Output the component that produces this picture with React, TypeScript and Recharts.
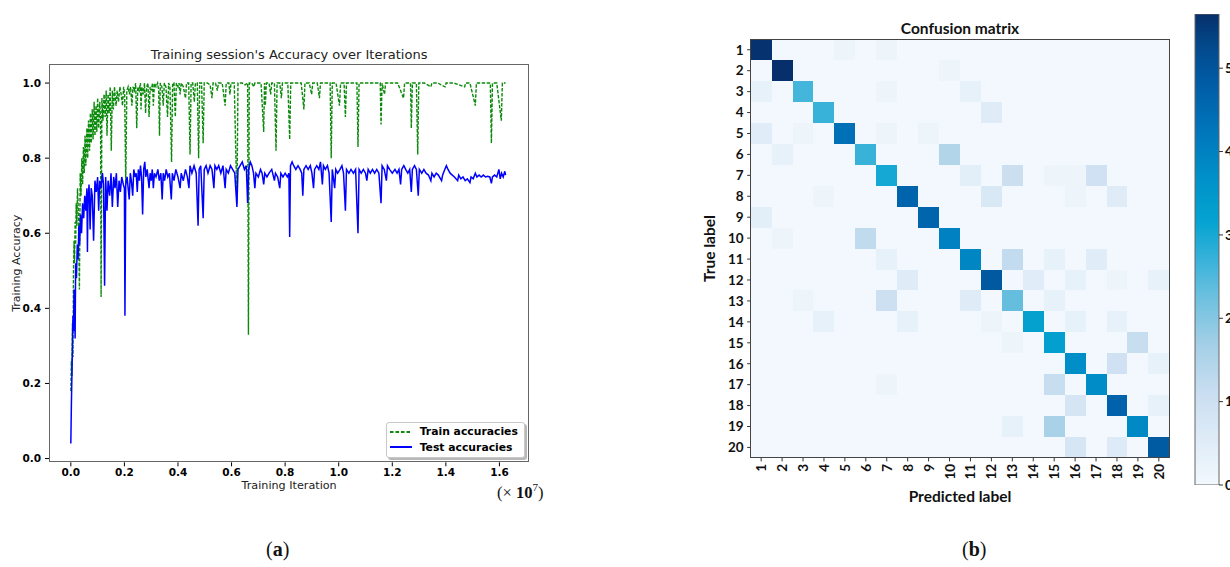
import React from "react"
import {
    LineChart,
    Line,
    XAxis,
    YAxis,
    Legend,
    ScatterChart,
    Scatter,
    BarChart,
    Bar,
} from "recharts"

// ---- panel (a): accuracy curves, x in units of 1e7 iterations ----
const trainCurve: [number, number][] = [
    [0, 0.18], [0.002, 0.26], [0.004, 0.22], [0.006, 0.36], [0.008, 0.27], [0.01, 0.5], [0.012, 0.58],
    [0.014, 0.52], [0.016, 0.63], [0.018, 0.57], [0.02, 0.68], [0.022, 0.62], [0.025, 0.72], [0.028, 0.66],
    [0.032, 0.45], [0.035, 0.76], [0.038, 0.7], [0.041, 0.8], [0.044, 0.73], [0.047, 0.83], [0.05, 0.76],
    [0.053, 0.86], [0.056, 0.78], [0.06, 0.88], [0.063, 0.8], [0.066, 0.9], [0.07, 0.82], [0.073, 0.92],
    [0.076, 0.84], [0.08, 0.93], [0.083, 0.85], [0.087, 0.95], [0.09, 0.86], [0.094, 0.94], [0.097, 0.87],
    [0.1, 0.96], [0.104, 0.88], [0.108, 0.95], [0.111, 0.9], [0.113, 0.43], [0.116, 0.96], [0.12, 0.9],
    [0.124, 0.97], [0.128, 0.91], [0.132, 0.98], [0.135, 0.86], [0.139, 0.97], [0.143, 0.92], [0.147, 0.99],
    [0.151, 0.82], [0.155, 0.98], [0.159, 0.93], [0.163, 0.99], [0.167, 0.95], [0.169, 0.94], [0.173, 0.98],
    [0.178, 0.95], [0.183, 0.99], [0.188, 0.97], [0.193, 0.94], [0.197, 0.99], [0.201, 0.97], [0.205, 0.73],
    [0.209, 0.98], [0.214, 0.99], [0.219, 0.97], [0.223, 0.99], [0.228, 0.94], [0.232, 0.99], [0.237, 0.98],
    [0.242, 1.0], [0.246, 0.88], [0.25, 0.99], [0.255, 0.98], [0.26, 1.0], [0.262, 0.93], [0.265, 0.99],
    [0.27, 0.97], [0.275, 1.0], [0.279, 0.92], [0.283, 0.99], [0.288, 1.0], [0.292, 0.91], [0.296, 0.99],
    [0.3, 0.98], [0.305, 1.0], [0.308, 0.94], [0.312, 1.0], [0.318, 0.99], [0.324, 1.0], [0.328, 0.98],
    [0.331, 0.86], [0.334, 1.0], [0.34, 0.99], [0.345, 0.94], [0.349, 1.0], [0.355, 0.99], [0.361, 0.91],
    [0.365, 1.0], [0.37, 0.99], [0.376, 0.79], [0.38, 1.0], [0.385, 1.0], [0.39, 0.91], [0.394, 1.0],
    [0.4, 0.99], [0.404, 1.0], [0.408, 0.97], [0.412, 1.0], [0.42, 0.99], [0.428, 0.96], [0.432, 1.0],
    [0.44, 1.0], [0.445, 0.81], [0.449, 1.0], [0.455, 1.0], [0.461, 0.95], [0.465, 1.0], [0.472, 1.0],
    [0.477, 0.8], [0.481, 1.0], [0.488, 1.0], [0.494, 0.84], [0.498, 1.0], [0.51, 1.0], [0.52, 0.995],
    [0.527, 0.96], [0.531, 1.0], [0.54, 1.0], [0.547, 0.98], [0.551, 1.0], [0.565, 1.0], [0.576, 0.94],
    [0.58, 1.0], [0.59, 1.0], [0.594, 0.97], [0.598, 1.0], [0.61, 1.0], [0.62, 0.68], [0.624, 1.0],
    [0.64, 1.0], [0.65, 0.995], [0.66, 1.0], [0.663, 0.33], [0.666, 1.0], [0.675, 1.0], [0.683, 0.99],
    [0.687, 1.0], [0.7, 1.0], [0.71, 1.0], [0.72, 0.87], [0.723, 1.0], [0.726, 0.94], [0.73, 1.0],
    [0.74, 1.0], [0.746, 0.97], [0.75, 1.0], [0.76, 1.0], [0.766, 0.82], [0.77, 1.0], [0.78, 1.0],
    [0.786, 0.96], [0.79, 1.0], [0.81, 1.0], [0.817, 0.85], [0.821, 1.0], [0.84, 1.0], [0.86, 1.0],
    [0.87, 0.93], [0.874, 1.0], [0.89, 1.0], [0.899, 0.97], [0.903, 1.0], [0.92, 1.0], [0.928, 0.96],
    [0.932, 1.0], [0.95, 1.0], [0.968, 1.0], [0.972, 0.8], [0.976, 1.0], [0.99, 1.0], [1.003, 0.94],
    [1.007, 1.0], [1.02, 1.0], [1.025, 0.91], [1.029, 1.0], [1.05, 1.0], [1.068, 1.0], [1.072, 0.83],
    [1.076, 1.0], [1.1, 1.0], [1.13, 1.0], [1.155, 1.0], [1.158, 0.89], [1.162, 1.0], [1.171, 0.97],
    [1.175, 1.0], [1.2, 1.0], [1.22, 1.0], [1.242, 0.96], [1.246, 1.0], [1.268, 1.0], [1.271, 0.88],
    [1.275, 1.0], [1.29, 1.0], [1.295, 0.81], [1.299, 1.0], [1.32, 1.0], [1.344, 0.99], [1.348, 1.0],
    [1.37, 1.0], [1.397, 0.99], [1.401, 1.0], [1.43, 1.0], [1.47, 0.99], [1.474, 1.0], [1.49, 1.0],
    [1.51, 0.94], [1.514, 1.0], [1.54, 1.0], [1.566, 1.0], [1.57, 0.84], [1.574, 1.0], [1.59, 1.0],
    [1.607, 0.9], [1.611, 1.0], [1.623, 1.0],
]

const testCurve: [number, number][] = [
    [0, 0.04], [0.002, 0.14], [0.004, 0.22], [0.006, 0.3], [0.008, 0.38], [0.01, 0.34], [0.012, 0.45],
    [0.014, 0.41], [0.016, 0.32], [0.018, 0.52], [0.021, 0.48], [0.024, 0.57], [0.027, 0.53], [0.03, 0.62],
    [0.033, 0.57], [0.036, 0.65], [0.04, 0.6], [0.044, 0.68], [0.048, 0.64], [0.052, 0.7], [0.056, 0.66],
    [0.06, 0.72], [0.062, 0.55], [0.064, 0.69], [0.068, 0.73], [0.072, 0.61], [0.076, 0.72], [0.08, 0.7],
    [0.085, 0.58], [0.09, 0.74], [0.095, 0.71], [0.1, 0.75], [0.104, 0.66], [0.108, 0.74], [0.113, 0.72],
    [0.118, 0.76], [0.122, 0.73], [0.126, 0.46], [0.13, 0.75], [0.135, 0.66], [0.139, 0.74], [0.145, 0.7],
    [0.15, 0.76], [0.155, 0.67], [0.16, 0.75], [0.165, 0.72], [0.17, 0.76], [0.175, 0.67], [0.18, 0.74],
    [0.185, 0.71], [0.19, 0.75], [0.196, 0.73], [0.2, 0.72], [0.202, 0.38], [0.205, 0.73], [0.21, 0.75],
    [0.214, 0.72], [0.218, 0.69], [0.222, 0.76], [0.226, 0.74], [0.231, 0.7], [0.235, 0.77], [0.24, 0.75],
    [0.244, 0.76], [0.248, 0.71], [0.252, 0.77], [0.256, 0.74], [0.26, 0.78], [0.264, 0.75], [0.268, 0.65],
    [0.272, 0.77], [0.276, 0.79], [0.28, 0.75], [0.285, 0.77], [0.292, 0.72], [0.296, 0.76], [0.3, 0.74],
    [0.304, 0.77], [0.308, 0.72], [0.312, 0.76], [0.318, 0.75], [0.325, 0.77], [0.33, 0.74], [0.336, 0.76],
    [0.341, 0.69], [0.345, 0.76], [0.35, 0.74], [0.356, 0.77], [0.362, 0.75], [0.368, 0.76], [0.375, 0.69],
    [0.379, 0.76], [0.385, 0.74], [0.392, 0.77], [0.4, 0.75], [0.408, 0.72], [0.412, 0.76], [0.42, 0.74],
    [0.428, 0.77], [0.435, 0.75], [0.441, 0.72], [0.445, 0.78], [0.452, 0.76], [0.46, 0.78], [0.468, 0.76],
    [0.475, 0.62], [0.479, 0.77], [0.485, 0.78], [0.494, 0.64], [0.498, 0.77], [0.505, 0.78], [0.512, 0.76],
    [0.52, 0.78], [0.527, 0.77], [0.534, 0.72], [0.538, 0.78], [0.545, 0.77], [0.552, 0.78], [0.56, 0.76],
    [0.568, 0.78], [0.576, 0.72], [0.58, 0.77], [0.588, 0.76], [0.596, 0.78], [0.604, 0.77], [0.612, 0.76],
    [0.62, 0.67], [0.624, 0.77], [0.632, 0.78], [0.64, 0.79], [0.648, 0.77], [0.655, 0.78], [0.66, 0.68],
    [0.664, 0.77], [0.67, 0.79], [0.676, 0.78], [0.682, 0.76], [0.687, 0.72], [0.691, 0.76], [0.7, 0.75],
    [0.708, 0.77], [0.714, 0.76], [0.72, 0.73], [0.724, 0.76], [0.732, 0.75], [0.74, 0.76], [0.75, 0.77],
    [0.76, 0.74], [0.764, 0.76], [0.772, 0.75], [0.78, 0.72], [0.784, 0.76], [0.792, 0.75], [0.8, 0.76],
    [0.808, 0.75], [0.814, 0.76], [0.817, 0.59], [0.82, 0.78], [0.826, 0.79], [0.832, 0.78], [0.84, 0.77],
    [0.848, 0.78], [0.856, 0.77], [0.862, 0.76], [0.866, 0.7], [0.87, 0.77], [0.878, 0.78], [0.886, 0.77],
    [0.894, 0.78], [0.9, 0.76], [0.906, 0.72], [0.91, 0.77], [0.918, 0.78], [0.926, 0.77], [0.932, 0.79],
    [0.939, 0.73], [0.943, 0.78], [0.95, 0.77], [0.958, 0.78], [0.964, 0.76], [0.972, 0.63], [0.976, 0.77],
    [0.985, 0.72], [0.989, 0.77], [0.996, 0.76], [1.005, 0.77], [1.012, 0.78], [1.018, 0.76], [1.025, 0.66],
    [1.029, 0.77], [1.038, 0.76], [1.046, 0.77], [1.055, 0.76], [1.063, 0.77], [1.072, 0.6], [1.076, 0.77],
    [1.084, 0.76], [1.092, 0.77], [1.1, 0.76], [1.105, 0.74], [1.11, 0.77], [1.118, 0.76], [1.126, 0.77],
    [1.134, 0.76], [1.142, 0.77], [1.15, 0.76], [1.158, 0.68], [1.162, 0.78], [1.17, 0.77], [1.178, 0.74],
    [1.182, 0.78], [1.19, 0.77], [1.2, 0.76], [1.21, 0.77], [1.218, 0.76], [1.225, 0.77], [1.231, 0.73],
    [1.235, 0.77], [1.243, 0.78], [1.25, 0.77], [1.258, 0.76], [1.265, 0.77], [1.271, 0.71], [1.275, 0.77],
    [1.283, 0.78], [1.29, 0.77], [1.297, 0.7], [1.301, 0.77], [1.31, 0.76], [1.318, 0.77], [1.326, 0.76],
    [1.335, 0.755], [1.344, 0.74], [1.348, 0.76], [1.356, 0.75], [1.364, 0.76], [1.372, 0.755], [1.384, 0.74],
    [1.388, 0.755], [1.396, 0.77], [1.402, 0.78], [1.408, 0.77], [1.416, 0.76], [1.424, 0.755], [1.432, 0.75],
    [1.444, 0.74], [1.448, 0.755], [1.456, 0.745], [1.464, 0.75], [1.472, 0.74], [1.48, 0.745], [1.49, 0.735],
    [1.494, 0.75], [1.502, 0.745], [1.51, 0.76], [1.516, 0.75], [1.524, 0.755], [1.532, 0.75], [1.54, 0.755],
    [1.548, 0.75], [1.556, 0.752], [1.564, 0.75], [1.57, 0.733], [1.574, 0.75], [1.582, 0.755], [1.59, 0.75],
    [1.598, 0.77], [1.603, 0.745], [1.608, 0.76], [1.614, 0.75], [1.62, 0.765], [1.623, 0.755],
]

const iterTicks = [0, 0.2, 0.4, 0.6, 0.8, 1.0, 1.2, 1.4, 1.6]
const accTicks = [0, 0.2, 0.4, 0.6, 0.8, 1.0]

const TRAIN_NAME = "Train accuracies"
const TEST_NAME = "Test accuracies"
const seriesOrder = [TRAIN_NAME, TEST_NAME]
const seriesDash: Record<string, string | undefined> = { [TRAIN_NAME]: "3.5 2", [TEST_NAME]: undefined }

// ---- panel (b): confusion matrix (rows = true label, cols = predicted) ----
const classes = [1, 2, 3, 4, 5, 6, 7, 8, 9, 10, 11, 12, 13, 14, 15, 16, 17, 18, 19, 20]
const confusion: number[][] = [
    [560, 0, 0, 0, 15, 0, 15, 0, 0, 0, 0, 0, 0, 0, 0, 0, 0, 0, 0, 0],
    [0, 565, 0, 0, 0, 0, 0, 0, 0, 15, 0, 0, 0, 0, 0, 0, 0, 0, 0, 0],
    [30, 0, 260, 0, 0, 0, 15, 0, 0, 0, 30, 0, 0, 0, 0, 0, 0, 0, 0, 0],
    [0, 0, 0, 270, 0, 0, 0, 0, 0, 0, 0, 55, 0, 0, 0, 0, 0, 0, 0, 0],
    [50, 0, 15, 0, 435, 0, 15, 0, 15, 0, 0, 0, 0, 0, 0, 0, 0, 0, 0, 0],
    [0, 30, 0, 0, 0, 270, 0, 0, 0, 145, 0, 0, 0, 0, 0, 0, 0, 0, 0, 0],
    [0, 0, 0, 0, 0, 0, 300, 0, 0, 0, 45, 0, 105, 0, 15, 15, 95, 0, 0, 0],
    [0, 0, 0, 15, 0, 0, 0, 465, 0, 0, 0, 70, 0, 0, 0, 15, 0, 55, 0, 0],
    [45, 0, 0, 0, 0, 0, 0, 0, 462, 0, 0, 0, 0, 0, 0, 0, 0, 0, 0, 0],
    [0, 15, 0, 0, 0, 125, 0, 0, 0, 400, 0, 0, 0, 0, 0, 0, 0, 0, 0, 0],
    [0, 0, 0, 0, 0, 0, 30, 0, 0, 0, 390, 0, 120, 0, 30, 0, 50, 0, 0, 0],
    [0, 0, 0, 0, 0, 0, 0, 55, 0, 0, 0, 490, 0, 50, 0, 30, 0, 15, 0, 30],
    [0, 0, 15, 0, 0, 0, 100, 0, 0, 0, 55, 0, 232, 0, 30, 0, 0, 0, 0, 0],
    [0, 0, 0, 30, 0, 0, 0, 30, 0, 0, 0, 15, 0, 322, 0, 30, 0, 30, 0, 0],
    [0, 0, 0, 0, 0, 0, 0, 0, 0, 0, 0, 0, 15, 0, 325, 0, 0, 0, 115, 0],
    [0, 0, 0, 0, 0, 0, 0, 0, 0, 0, 0, 0, 0, 0, 0, 373, 0, 95, 0, 30],
    [0, 0, 0, 0, 0, 0, 15, 0, 0, 0, 0, 0, 0, 0, 115, 0, 375, 0, 0, 0],
    [0, 0, 0, 0, 0, 0, 0, 0, 0, 0, 0, 0, 0, 0, 0, 80, 0, 470, 0, 30],
    [0, 0, 0, 0, 0, 0, 0, 0, 0, 0, 0, 0, 30, 0, 160, 0, 0, 0, 385, 0],
    [0, 0, 0, 0, 0, 0, 0, 0, 0, 0, 0, 0, 0, 0, 0, 75, 0, 60, 0, 485],
]
const cbarMax = 565
const cbarTicks = [0, 100, 200, 300, 400, 500]

// colormap stops (fraction of max -> colour)
const cmapStops: [number, string][] = [
    [0, "#f2f8fd"], [0.1, "#deebf7"], [0.2, "#c8ddf0"], [0.3, "#a3cfe6"], [0.4, "#6cc0df"],
    [0.5, "#2aaed8"], [0.56, "#04a3d0"], [0.65, "#0091c9"], [0.75, "#0076bb"], [0.85, "#005da6"],
    [0.93, "#034a8c"], [1, "#062f6b"],
]

const hexToRgb = (h: string) => [1, 3, 5].map((i) => parseInt(h.slice(i, i + 2), 16))
const colorFor = (v: number) => {
    const t = Math.max(0, Math.min(1, v / cbarMax))
    for (let i = 1; i < cmapStops.length; i++) {
        const [t1, c1] = cmapStops[i]
        if (t <= t1) {
            const [t0, c0] = cmapStops[i - 1]
            const f = (t - t0) / (t1 - t0)
            const a = hexToRgb(c0)
            const b = hexToRgb(c1)
            return `rgb(${a.map((x, k) => Math.round(x + (b[k] - x) * f)).join(",")})`
        }
    }
    return cmapStops[cmapStops.length - 1][1]
}

const trainData = trainCurve.map(([x, y]) => ({ x, y }))
const testData = testCurve.map(([x, y]) => ({ x, y }))
const cells = confusion.flatMap((row, r) => row.map((v, c) => ({ col: classes[c], row: classes[r], v })))

// layout of panel (b)
const HM_LEFT = 690
const HM_W = 500
const HM_H = 520
const HM_YAXIS_W = 60.7
const HM_TOP = 39.3
const HM_PLOT = 418.6
const cellSize = HM_PLOT / classes.length

const dejavuTick = { fontFamily: "DejaVu Sans", fontWeight: 700, fontSize: 10.5, fill: "#000" }
const latoTick = { fontFamily: "Lato", fontWeight: 700, fontSize: 13.5, fill: "#111" }

// eslint-disable-next-line
const RotatedTick = (props: any) => {
    const { x, y, payload } = props
    return (
        <text
            x={x}
            y={y}
            transform={`rotate(-90 ${x} ${y})`}
            textAnchor="end"
            dominantBaseline="central"
            {...latoTick}
        >
            {payload.value}
        </text>
    )
}

// eslint-disable-next-line
const CellShape = (props: any) => {
    const { cx, cy, payload } = props
    return (
        <rect
            x={cx - cellSize / 2}
            y={cy - cellSize / 2}
            width={cellSize}
            height={cellSize}
            fill={colorFor(payload.v)}
            shapeRendering="crispEdges"
        />
    )
}

// eslint-disable-next-line
const LegendBox = (props: any) => {
    // eslint-disable-next-line
    const items = [...(props.payload || [])].sort(
        (a: any, b: any) => seriesOrder.indexOf(a.value) - seriesOrder.indexOf(b.value),
    )
    return (
        <div
            style={{
                width: 137,
                height: 33,
                border: "1px solid #c8c8c8",
                borderRadius: 3,
                boxShadow: "2px 2px 0 #b8b8b8",
                background: "#fff",
                boxSizing: "content-box",
                paddingTop: 1,
            }}
        >
            {/* eslint-disable-next-line */}
            {items.map((e: any, i: number) => (
                <div key={i} style={{ display: "flex", alignItems: "center", height: 15.3 }}>
                    <svg width={30} height={8} style={{ marginLeft: 3 }}>
                        <line
                            x1={0}
                            y1={4}
                            x2={22}
                            y2={4}
                            stroke={e.color}
                            strokeWidth={2}
                            strokeDasharray={seriesDash[e.value]}
                        />
                    </svg>
                    <span style={{ fontFamily: "DejaVu Sans", fontWeight: 700, fontSize: 10.8, color: "#000" }}>
                        {e.value}
                    </span>
                </div>
            ))}
        </div>
    )
}

const abs = (left: number, top: number): React.CSSProperties => ({ position: "absolute", left, top })

export default function App() {
    return (
        <div
            style={{
                position: "absolute",
                left: 0,
                top: 0,
                width: 1230,
                height: 567,
                overflow: "hidden",
                background: "#fff",
            }}
        >
            {/* panel (a) */}
            <div style={abs(0, 0)}>
                <LineChart width={560} height={520} margin={{ top: 64.3, right: 30.7, bottom: 0, left: 0 }}>
                    <XAxis
                        dataKey="x"
                        type="number"
                        domain={[-0.0815, 1.7115]}
                        allowDataOverflow
                        ticks={iterTicks}
                        tickFormatter={(v: number) => v.toFixed(1)}
                        axisLine={false}
                        tickLine={{ stroke: "#000" }}
                        tickSize={4}
                        tickMargin={2}
                        height={57.7}
                        tick={dejavuTick}
                        label={{
                            value: "Training Iteration",
                            position: "insideBottom",
                            offset: 31,
                            style: { fontFamily: "DejaVu Sans", fontSize: 11.2, fill: "#222", textAnchor: "middle" },
                        }}
                    />
                    <YAxis
                        type="number"
                        domain={[-0.01, 1.05]}
                        allowDataOverflow
                        ticks={accTicks}
                        tickFormatter={(v: number) => v.toFixed(1)}
                        axisLine={false}
                        tickLine={{ stroke: "#000" }}
                        tickSize={4}
                        tickMargin={4}
                        width={49}
                        tick={dejavuTick}
                        label={{
                            value: "Training Accuracy",
                            angle: -90,
                            position: "insideLeft",
                            offset: 16,
                            style: { fontFamily: "DejaVu Sans", fontSize: 11, fill: "#222", textAnchor: "middle" },
                        }}
                    />
                    <Line
                        data={trainData}
                        dataKey="y"
                        name={TRAIN_NAME}
                        stroke="#0a8a0a"
                        strokeWidth={1.4}
                        strokeDasharray="3.5 1.5"
                        dot={false}
                        activeDot={false}
                        isAnimationActive={false}
                    />
                    <Line
                        data={testData}
                        dataKey="y"
                        name={TEST_NAME}
                        stroke="#0000ff"
                        strokeWidth={1.5}
                        dot={false}
                        activeDot={false}
                        isAnimationActive={false}
                    />
                    <Legend
                        layout="vertical"
                        align="center"
                        verticalAlign="middle"
                        content={LegendBox}
                        wrapperStyle={{ left: 385.7, top: 422.3, width: 139, height: 35 }}
                    />
                </LineChart>
            </div>
            <div
                style={{
                    ...abs(49, 64.3),
                    width: 480.3,
                    height: 398,
                    border: "1px solid #666",
                    boxSizing: "border-box",
                    pointerEvents: "none",
                }}
            />
            <div
                style={{
                    ...abs(49, 46),
                    width: 480.3,
                    textAlign: "center",
                    fontFamily: "DejaVu Sans",
                    fontSize: 13,
                    color: "#222",
                    lineHeight: "18px",
                }}
            >
                Training session's Accuracy over Iterations
            </div>
            <div style={{ ...abs(497, 476), fontFamily: "Liberation Serif", fontSize: 16.5, color: "#111", lineHeight: "22px" }}>
                (× <b>10</b>
                <sup style={{ fontSize: 11 }}>7</sup>)
            </div>

            {/* panel (b) */}
            <div style={abs(HM_LEFT, 0)}>
                <ScatterChart width={HM_W} height={HM_H} margin={{ top: HM_TOP, right: HM_W - HM_YAXIS_W - HM_PLOT, bottom: 0, left: 0 }}>
                    <XAxis
                        dataKey="col"
                        type="number"
                        domain={[0.5, 20.5]}
                        allowDataOverflow
                        ticks={classes}
                        interval={0}
                        axisLine={false}
                        tickLine={{ stroke: "#333" }}
                        tickSize={3.5}
                        tickMargin={2.5}
                        height={HM_H - HM_TOP - HM_PLOT}
                        tick={RotatedTick}
                        label={{
                            value: "Predicted label",
                            position: "insideBottom",
                            offset: 17.6,
                            style: { fontFamily: "Lato", fontWeight: 700, fontSize: 15.5, fill: "#111", textAnchor: "middle" },
                        }}
                    />
                    <YAxis
                        dataKey="row"
                        type="number"
                        domain={[0.5, 20.5]}
                        allowDataOverflow
                        reversed
                        ticks={classes}
                        interval={0}
                        axisLine={false}
                        tickLine={{ stroke: "#333" }}
                        tickSize={3.5}
                        tickMargin={3.5}
                        width={HM_YAXIS_W}
                        tick={latoTick}
                        label={{
                            value: "True label",
                            angle: -90,
                            position: "insideLeft",
                            offset: 20,
                            style: { fontFamily: "Lato", fontWeight: 700, fontSize: 15.5, fill: "#111", textAnchor: "middle" },
                        }}
                    />
                    <Scatter data={cells} shape={CellShape} isAnimationActive={false} />
                </ScatterChart>
            </div>
            <div
                style={{
                    ...abs(HM_LEFT + HM_YAXIS_W - 0.5, HM_TOP - 0.5),
                    width: HM_PLOT + 1,
                    height: HM_PLOT + 1,
                    border: "1px solid #444",
                    boxSizing: "border-box",
                    pointerEvents: "none",
                }}
            />
            <div
                style={{
                    ...abs(HM_LEFT + HM_YAXIS_W, 19),
                    width: HM_PLOT,
                    textAlign: "center",
                    fontFamily: "Lato",
                    fontWeight: 700,
                    fontSize: 15.5,
                    color: "#111",
                    lineHeight: "18px",
                }}
            >
                Confusion matrix
            </div>

            {/* colour bar (tick labels run past the right edge, as in the source figure) */}
            <div style={abs(1185, 0)}>
                <BarChart
                    width={100}
                    height={520}
                    data={[{ name: "scale", v: cbarMax }]}
                    margin={{ top: 14, right: 0, bottom: 35, left: 10 }}
                    barCategoryGap={0}
                    barGap={0}
                >
                    <defs>
                        <linearGradient id="cbarGrad" x1="0" y1="1" x2="0" y2="0">
                            {cmapStops.map(([t, c]) => (
                                <stop key={t} offset={`${t * 100}%`} stopColor={c} />
                            ))}
                        </linearGradient>
                    </defs>
                    <XAxis dataKey="name" hide />
                    <YAxis
                        orientation="right"
                        type="number"
                        domain={[0, cbarMax]}
                        allowDataOverflow
                        ticks={cbarTicks}
                        interval={0}
                        axisLine={false}
                        tickLine={{ stroke: "#333" }}
                        tickSize={4}
                        tickMargin={2}
                        width={66}
                        tick={latoTick}
                    />
                    <Bar dataKey="v" fill="url(#cbarGrad)" stroke="#666" strokeWidth={1} isAnimationActive={false} />
                </BarChart>
            </div>

            {/* sub-figure captions */}
            <div style={{ ...abs(266, 538), fontFamily: "Liberation Serif", fontSize: 20, color: "#111" }}>
                (<b>a</b>)
            </div>
            <div style={{ ...abs(962, 538), fontFamily: "Liberation Serif", fontSize: 20, color: "#111" }}>
                (<b>b</b>)
            </div>
        </div>
    )
}
